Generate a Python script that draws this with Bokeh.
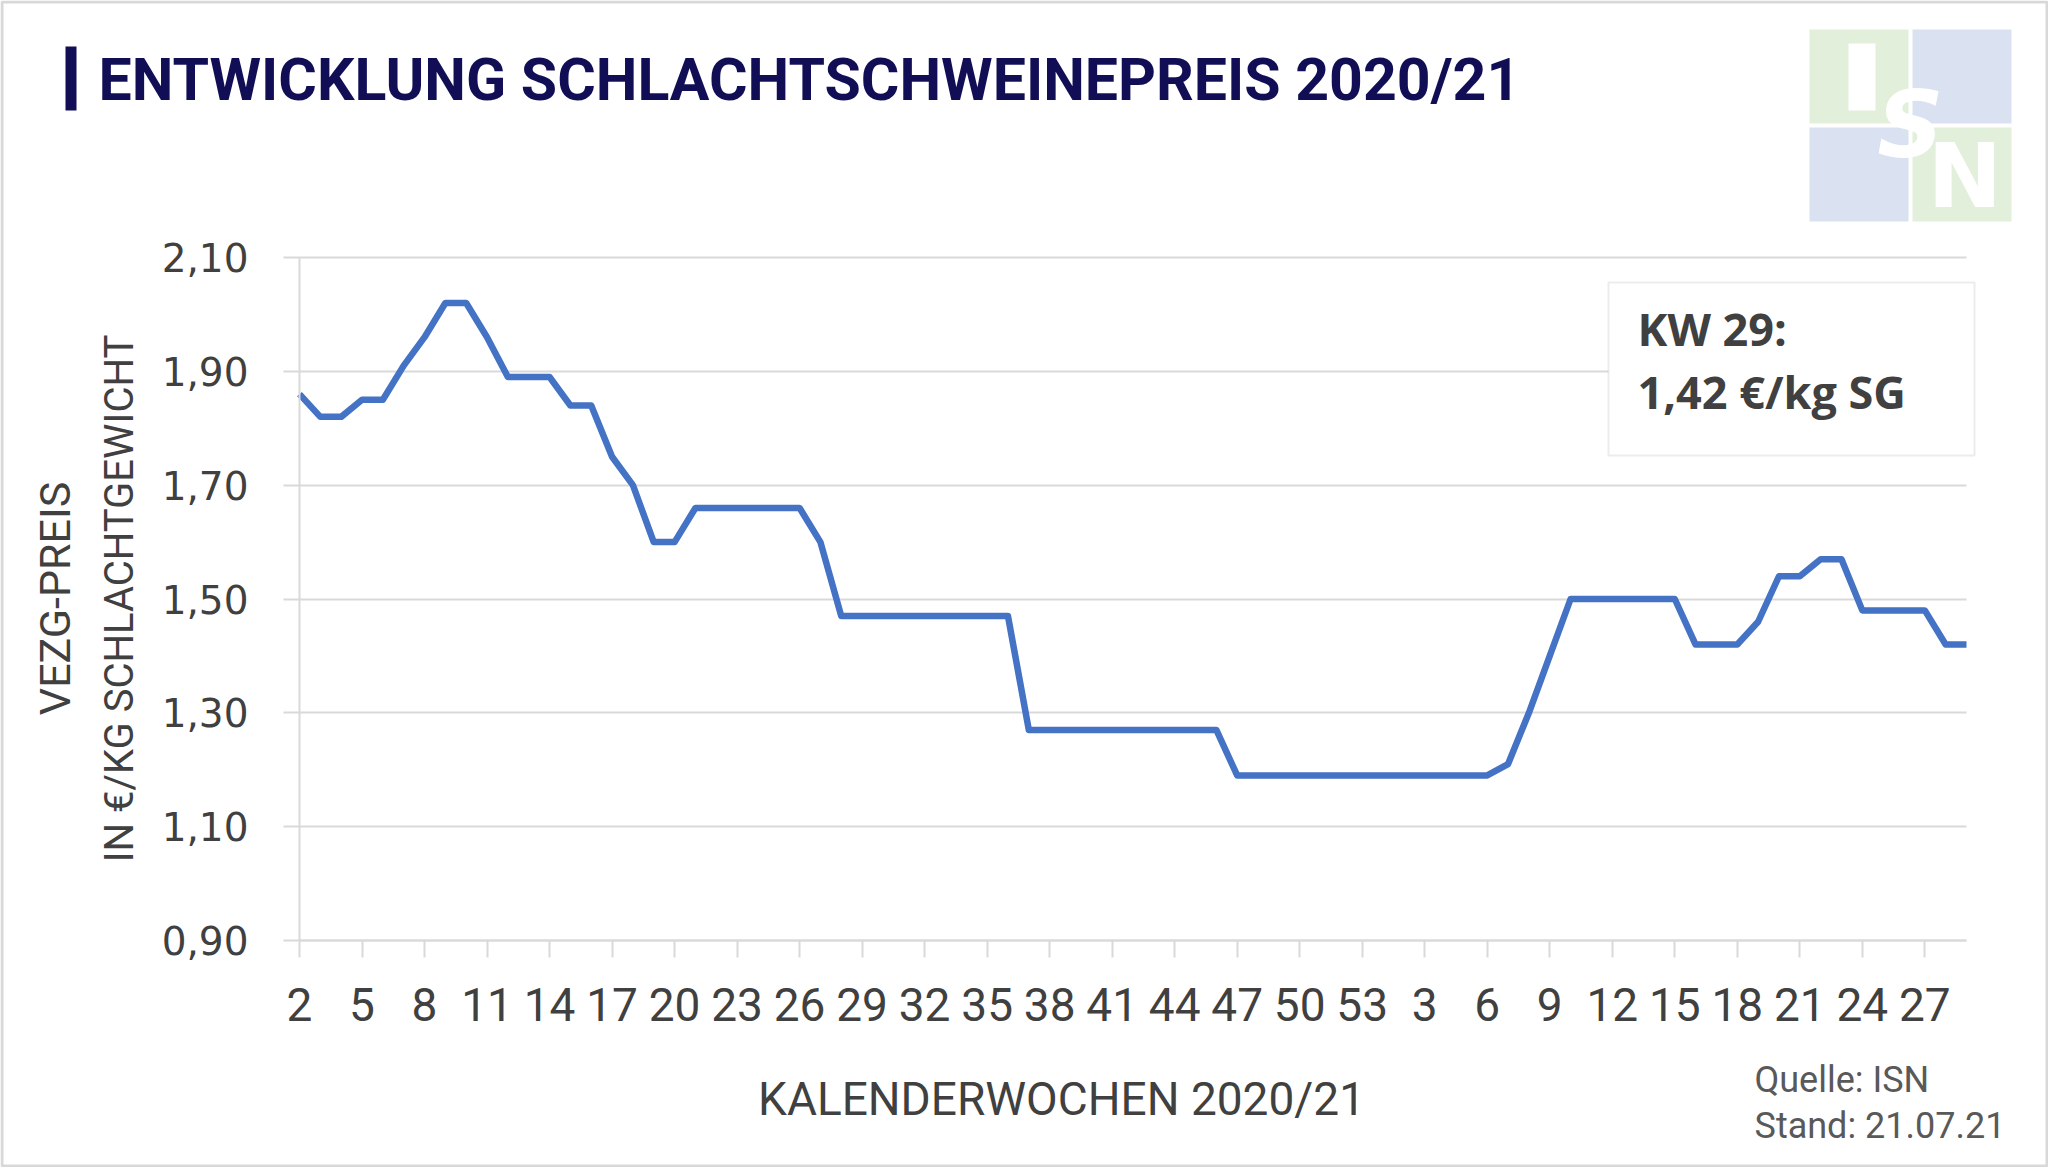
from bokeh.plotting import figure
from bokeh.models import (ColumnDataSource, Range1d, FixedTicker, Label, BoxAnnotation)
from bokeh.embed import file_html
from bokeh.resources import INLINE
import math

# ---------------- data ----------------
weeks_2020 = list(range(2, 54))
weeks_2021 = list(range(1, 30))
week_labels = [str(w) for w in weeks_2020 + weeks_2021]

prices = [
    1.86, 1.82, 1.82, 1.85, 1.85, 1.91, 1.96, 2.02, 2.02, 1.96,   # KW 2-11 (2020)
    1.89, 1.89, 1.89, 1.84, 1.84, 1.75, 1.70, 1.60, 1.60, 1.66,   # KW 12-21
    1.66, 1.66, 1.66, 1.66, 1.66, 1.60, 1.47, 1.47, 1.47, 1.47,   # KW 22-31
    1.47, 1.47, 1.47, 1.47, 1.47, 1.27, 1.27, 1.27, 1.27, 1.27,   # KW 32-41
    1.27, 1.27, 1.27, 1.27, 1.27, 1.19, 1.19, 1.19, 1.19, 1.19,   # KW 42-51
    1.19, 1.19,                                                   # KW 52-53
    1.19, 1.19, 1.19, 1.19, 1.19, 1.19, 1.21, 1.30, 1.40, 1.50,   # KW 1-10 (2021)
    1.50, 1.50, 1.50, 1.50, 1.50, 1.42, 1.42, 1.42, 1.46, 1.54,   # KW 11-20
    1.54, 1.57, 1.57, 1.48, 1.48, 1.48, 1.48, 1.42, 1.42,         # KW 21-29
]

y_ticks = [0.90, 1.10, 1.30, 1.50, 1.70, 1.90, 2.10]
y_tick_labels = ["0,90", "1,10", "1,30", "1,50", "1,70", "1,90", "2,10"]

title_text = "ENTWICKLUNG SCHLACHTSCHWEINEPREIS 2020/21"
y_title_1 = "VEZG-PREIS"
y_title_2 = "IN €/KG SCHLACHTGEWICHT"
x_title = "KALENDERWOCHEN 2020/21"
box_line_1 = "KW 29:"
box_line_2 = "1,42 €/kg SG"
source_1 = "Quelle: ISN"
source_2 = "Stand:  21.07.21"

idx = list(range(len(prices)))
x_tick_idx = idx[::3]

# ---------------- layout (reference pixels) ----------------
W, H = 2048, 1167
FL, FR, FT, FB = 299, 1966, 257, 940    # plot area of the chart
Y0, Y1 = y_ticks[0], y_ticks[-1]
X0, X1 = idx[0], idx[-1]
kx = (FR - FL) / (X1 - X0)
ky = (FB - FT) / (Y1 - Y0)
x_start = X0 - FL / kx
x_end = X1 + (W - FR) / kx
y_end = Y1 + FT / ky
y_start = Y0 - (H - FB) / ky

BASE_SHIFT = 0.35   # Bokeh label anchor vs. visible baseline, in em

def sx(x):
    return x

def sy(y):
    return H - y

GRAY = "#404040"
GRID = "#d9d9d9"
CAL = "Roboto"

src = ColumnDataSource(dict(x=idx, y=prices))

p = figure(width=W, height=H, output_backend="svg", toolbar_location=None,
           x_range=Range1d(x_start, x_end), y_range=Range1d(y_start, y_end),
           min_border=0, min_border_left=0, min_border_right=0,
           min_border_top=0, min_border_bottom=0)
p.title.visible = False
p.outline_line_color = None
p.background_fill_color = "white"
p.border_fill_color = "white"

# y axis (fixed at the first category)
yax = p.yaxis[0]
yax.fixed_location = X0
yax.bounds = (Y0, Y1)
yax.ticker = FixedTicker(ticks=y_ticks)
yax.major_label_overrides = {t: l for t, l in zip(y_ticks, y_tick_labels)}
yax.axis_line_color = GRID
yax.axis_line_width = 2
yax.major_tick_line_color = GRID
yax.major_tick_line_width = 2
yax.major_tick_out = 16
yax.major_tick_in = 0
yax.minor_tick_line_color = None
yax.major_label_standoff = 35
yax.major_label_text_font = "DejaVu Sans"
yax.major_label_text_font_size = "39px"
yax.major_label_text_color = GRAY

p.ygrid.ticker = FixedTicker(ticks=y_ticks)
p.ygrid.bounds = (Y0, Y1)
p.ygrid.cross_bounds = (X0, X1)
p.ygrid.grid_line_color = GRID
p.ygrid.grid_line_width = 2
p.xgrid.visible = False

# x axis (fixed at the lowest price tick)
xax = p.xaxis[0]
xax.fixed_location = Y0
xax.bounds = (X0, X1)
xax.ticker = FixedTicker(ticks=x_tick_idx)
xax.major_label_overrides = {i: week_labels[i] for i in x_tick_idx}
xax.axis_line_color = GRID
xax.axis_line_width = 2
xax.major_tick_line_color = GRID
xax.major_tick_line_width = 2
xax.major_tick_out = 17
xax.major_tick_in = 0
xax.minor_tick_line_color = None
xax.major_label_standoff = 30
xax.major_label_text_font = CAL
xax.major_label_text_font_size = "46px"
xax.major_label_text_color = GRAY

# price line
p.line(x="x", y="y", source=src, line_color="#4472C4", line_width=6.5, line_join="round")

def box(l, r, t, b, **kw):
    ba = BoxAnnotation(left=sx(l), right=sx(r), top=sy(t), bottom=sy(b),
                       left_units="screen", right_units="screen",
                       top_units="screen", bottom_units="screen", **kw)
    p.add_layout(ba)
    return ba

def label(x, baseline_y, text, size, rotated=False, **kw):
    d = BASE_SHIFT * size
    if rotated:
        xx, yy = x - d, baseline_y
        kw["angle"] = math.pi / 2
    else:
        xx, yy = x, baseline_y - d
    lb = Label(x=sx(xx), y=sy(yy), x_units="screen", y_units="screen", text=text,
               text_font_size=f"{size}px", text_baseline="alphabetic", **kw)
    p.add_layout(lb)
    return lb

# outer border
box(1.5, W - 1.5, 1.5, H - 1.5, fill_alpha=0, line_color="#7f7f7f", line_width=3)

# title with bar
box(65, 76, 46, 110, fill_color="#110e55", fill_alpha=1, line_color=None)
label(98, 100, title_text, 59, text_font=CAL, text_font_style="bold", text_color="#110e55")

# ISN logo (decoration)
LG, LB = "#e2efda", "#dae1f0"
box(1809, 1908, 29, 123, fill_color=LG, fill_alpha=1, line_color=None)
box(1912, 2011, 29, 123, fill_color=LB, fill_alpha=1, line_color=None)
box(1809, 1908, 127, 221, fill_color=LB, fill_alpha=1, line_color=None)
box(1912, 2011, 127, 221, fill_color=LG, fill_alpha=1, line_color=None)
box(1848, 1875, 43, 110, fill_color="white", fill_alpha=1, line_color=None)
label(1910, 157, "S", 92, text_font="DejaVu Sans", text_font_style="bold italic",
      text_color="white", text_align="center")
label(1927, 207, "N", 89, text_font="DejaVu Sans", text_font_style="bold",
      text_color="white", text_align="left")

# y axis titles
label(70, 598, y_title_1, 43, rotated=True, text_font=CAL, text_color=GRAY, text_align="center")
label(133, 598, y_title_2, 40, rotated=True, text_font=CAL, text_color=GRAY, text_align="center")

# x axis title
label(1061, 1115, x_title, 46, text_font=CAL, text_color=GRAY, text_align="center")

# source
label(1754, 1092, source_1, 36, text_font=CAL, text_color="#595959")
label(1754, 1138, source_2, 36, text_font=CAL, text_color="#595959")

# KW box
box(1608, 1974, 282, 455, fill_color="white", fill_alpha=1, line_color="#bfbfbf", line_width=2)
label(1637, 344, box_line_1, 45, text_font="Open Sans", text_font_style="bold", text_color=GRAY)
label(1637, 407, box_line_2, 45, text_font="Open Sans", text_font_style="bold", text_color=GRAY)

open("out.html", "w").write(file_html(p, INLINE))
